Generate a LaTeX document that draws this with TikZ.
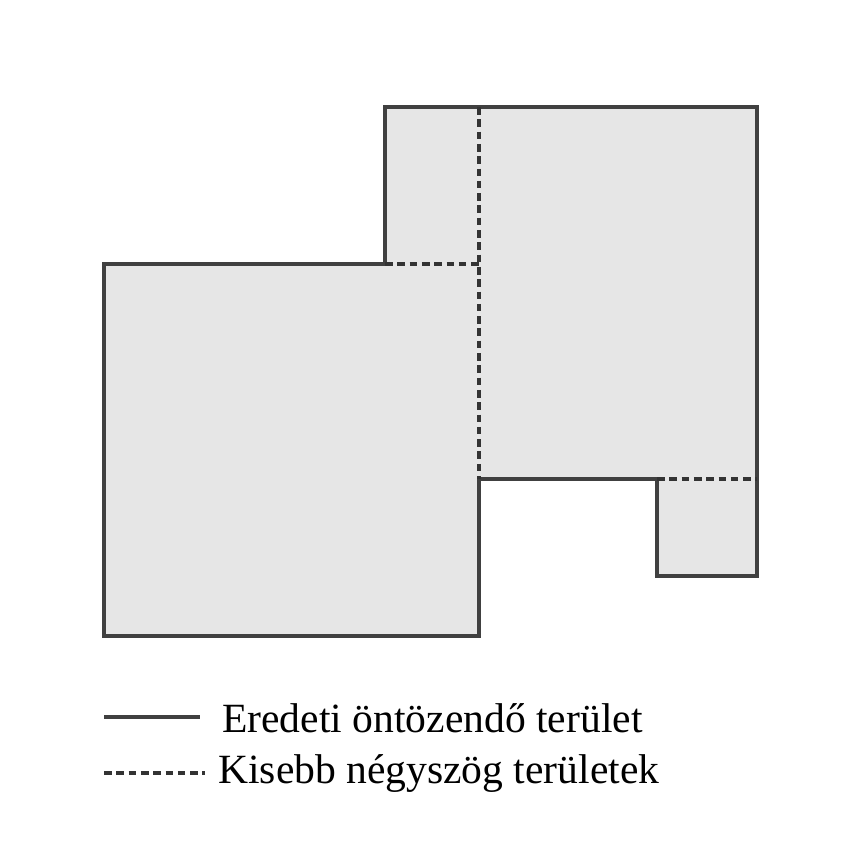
\documentclass[tikz,border=0pt]{standalone}
\usepackage{fontspec}
\setmainfont{Liberation Serif}
\usetikzlibrary{positioning}

\definecolor{areagray}{RGB}{230,230,230}
\tikzset{
  outline/.style={line width=2.6pt, line join=miter, draw=black!75},
  subline/.style={line width=2.6pt, draw=black!80, dash pattern=on 6.5pt off 4pt},
  legendtext/.style={anchor=west, inner sep=0pt, font=\fontsize{35.5}{38}\selectfont}
}

\begin{document}
\begin{tikzpicture}[x=0.03cm, y=-0.03cm]
			\useasboundingbox (0,0) rectangle (842,864);
			
			% Original area
			\filldraw[outline, fill=areagray] (104,264) -- (385,264) -- (385,107) -- (757,107) -- (757,576) -- (657,576) -- (657,479) -- (479,479) -- (479,636) -- (104,636) -- cycle;
			
			% Smaller squares
			\draw[subline] (385,264) -- (479,264);
			\draw[subline] (479,107) -- (479,479);
			\draw[subline] (657,479) -- (757,479);
			
			% Legend
			\coordinate (solidA) at (104,717);
			\coordinate (solidB) at (200,717);
			\draw[outline] (solidA) -- (solidB);
			\node[legendtext] (solidlbl) at (222,718) {Eredeti öntözendő terület};
			
			\coordinate (dashA) at (104,773);
			\coordinate (dashB) at (205,773);
			\draw[subline] (dashA) -- (dashB);
			\node[legendtext] (dashlbl) at (218,774) {Kisebb négyszög területek};
		\end{tikzpicture}
\end{document}
